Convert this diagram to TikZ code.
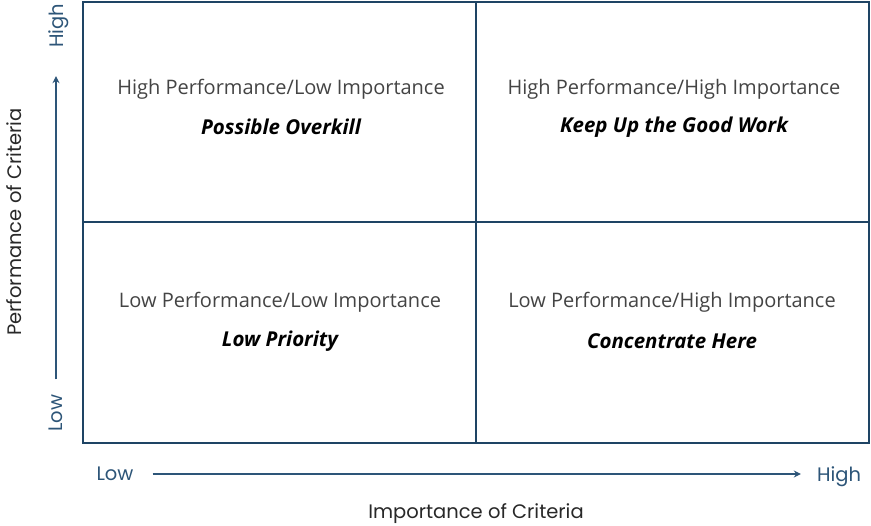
\documentclass[tikz,border=0pt]{standalone}
\usepackage{fontspec}
\setmainfont{Open Sans}
\newfontfamily\axisfont{Poppins}
\usetikzlibrary{arrows.meta,positioning}
\definecolor{Frame}{RGB}{30,68,100}
\definecolor{AxisBlue}{RGB}{45,85,120}
\definecolor{TextGray}{RGB}{68,68,68}
\definecolor{TitleGray}{RGB}{40,40,40}
\tikzset{
  quadtext/.style={font=\fontsize{20}{24}\selectfont,text=TextGray},
  verdict/.style={font=\fontsize{20.5}{24}\selectfont\bfseries\itshape,text=black},
  ends/.style={font=\axisfont\fontsize{19.5}{23}\selectfont,text=AxisBlue,inner sep=0pt,text depth=0pt},
  axistitle/.style={font=\axisfont\fontsize{19.5}{23}\selectfont,text=TitleGray},
  axisarrow/.style={-{Stealth[length=7pt,width=7pt]},draw=AxisBlue,line width=1.3pt},
  gridline/.style={draw=Frame,line width=2.4pt}
}
\begin{document}
\begin{tikzpicture}[x=1pt,y=-1pt]
\useasboundingbox (0,0) rectangle (871,526);
\fill[white] (0,0) rectangle (871,526);
% the four quadrants
\draw[gridline] (83,2) rectangle (869,443);
\draw[gridline] (476,2) -- (476,443);
\draw[gridline] (83,222) -- (869,222);
\node[quadtext] (hlhead) at (281,89) {High Performance/Low Importance};
\node[verdict] (hl) at (281,127) {Possible Overkill};
\node[quadtext] (hhhead) at (674,89) {High Performance/High Importance};
\node[verdict] (hh) at (674,127) {Keep Up the Good Work};
\node[quadtext] (llhead) at (280,302) {Low Performance/Low Importance};
\node[verdict] (ll) at (280,341) {Low Priority};
\node[quadtext] (lhhead) at (672,302) {Low Performance/High Importance};
\node[verdict] (lh) at (672,341) {Concentrate Here};
% vertical axis
\node[ends,rotate=90] (plow) at (56,413) {Low};
\node[ends,rotate=90] (phigh) at (56,26) {High};
\draw[axisarrow,shorten <=15pt,shorten >=28pt] (plow) -- (phigh);
\node[axistitle,rotate=90] (ptitle) at (14,222) {Performance of Criteria};
% horizontal axis
\node[ends] (ilow) at (115,474) {Low};
\node[ends] (ihigh) at (839,474) {High};
\draw[axisarrow,shorten <=19pt,shorten >=16pt] (ilow) -- (ihigh);
\node[axistitle] (ititle) at (476,514) {Importance of Criteria};
\end{tikzpicture}
\end{document}
